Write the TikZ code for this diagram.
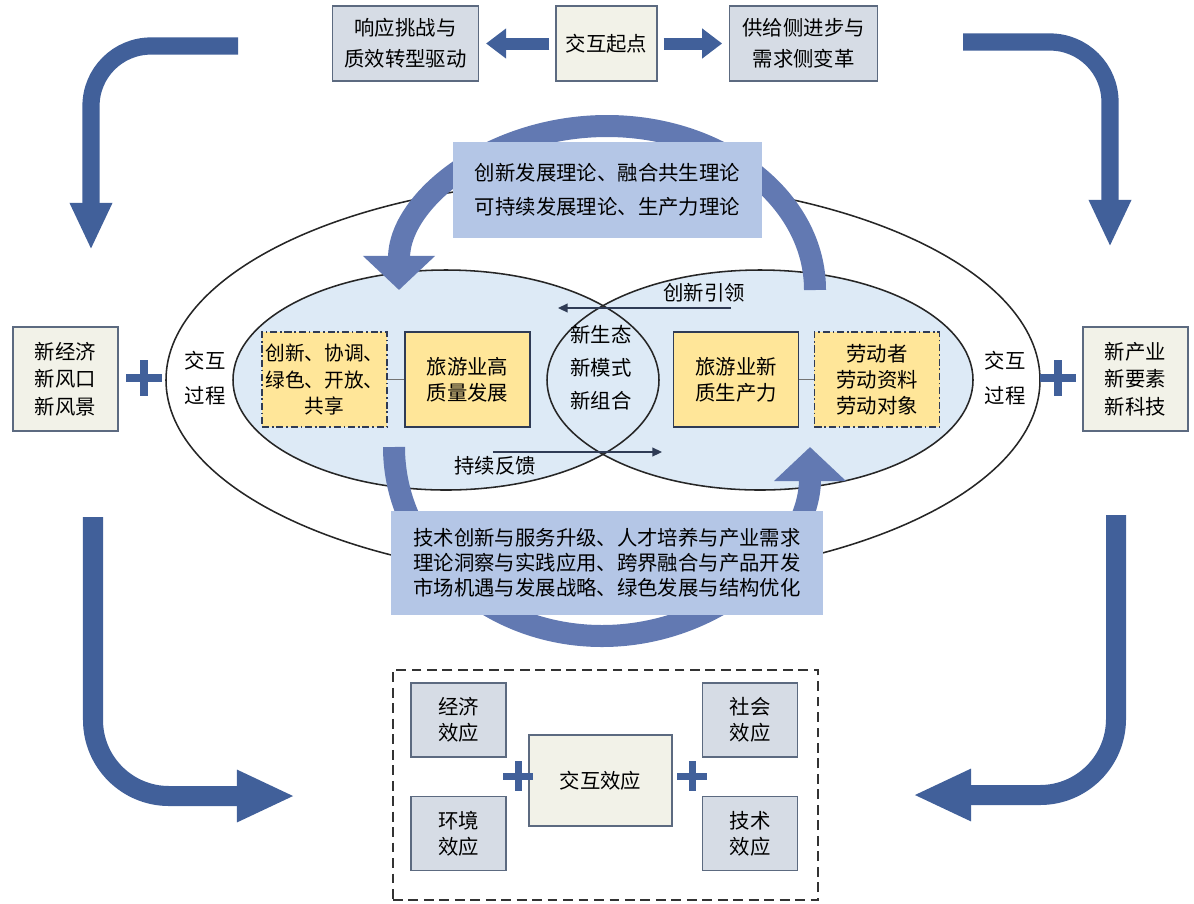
\documentclass[tikz,border=0pt]{standalone}
\usepackage{fontspec}
\setmainfont{Noto Sans CJK SC}
\usetikzlibrary{arrows.meta, positioning, shapes.misc}
\definecolor{cnavy}{HTML}{41609A}
\definecolor{carc}{HTML}{6279B2}
\definecolor{ctheory}{HTML}{B4C6E6}
\definecolor{cpale}{HTML}{DDEAF6}
\definecolor{cyellow}{HTML}{FFE699}
\definecolor{cslate}{HTML}{D6DCE5}
\definecolor{ccream}{HTML}{F2F2E8}
\definecolor{cedge}{HTML}{5C6A80}
\definecolor{cdark}{HTML}{2F3B55}
\tikzset{
  every picture/.style={font=\fontsize{14.5}{18.5}\selectfont, line width=1pt},
  box/.style={draw=cedge, fill=#1, align=center, inner sep=0pt, minimum width=2.375cm, minimum height=1.85cm},
  box/.default=cslate,
  ybox/.style={draw=cdark, fill=cyellow, line width=1.3pt, align=center, inner sep=0pt, minimum width=3.125cm, minimum height=2.375cm},
  dashdot/.style={ybox, dash pattern=on 5pt off 2pt on 1.2pt off 2pt},
  theory/.style={fill=ctheory, align=center, inner sep=0pt},
  tag/.style={align=center, inner sep=0pt},
  ring/.style={draw=black!85, line width=1.1pt},
  blockarrow/.style={cnavy, line width=0.3cm, -{Triangle[width=0.72cm, length=0.5cm]}, shorten <=0.15cm, shorten >=0.17cm},
  bendarrow/.style={cnavy, line width=#1, rounded corners=1.5cm},
  swing/.style={carc, line width=0.55cm, -{Triangle[width=1.75cm, length=0.85cm]}},
  lead/.style={draw=cdark, line width=1pt, -{Triangle[length=2.4mm, width=2.2mm]}},
  link/.style={draw=black!55, line width=0.7pt},
  bigplus/.style={cross out, draw=cnavy, rotate=45, inner sep=0pt, minimum size=0.425cm, line width=0.2cm},
  smallplus/.style={cross out, draw=cnavy, rotate=45, inner sep=0pt, minimum size=0.354cm, line width=0.175cm},
}

\begin{document}
\begin{tikzpicture}[x=0.025cm, y=-0.025cm]
  \useasboundingbox (0,0) rectangle (1194,903);

  % starting point
  \node[box=ccream, minimum width=2.525cm, minimum height=1.875cm] (start) at (606.5,43.5) {交互起点};
  \node[box, minimum width=3.65cm, minimum height=1.875cm, font=\fontsize{14.5}{22}\selectfont, left=1.9cm of start] (resp) {响应挑战与\\质效转型驱动};
  \node[box, minimum width=3.7cm, minimum height=1.875cm, font=\fontsize{14.5}{22}\selectfont, right=1.78cm of start] (supply) {供给侧进步与\\需求侧变革};
  \draw[blockarrow] (start.west) -- (resp.east);
  \draw[blockarrow] (start.east) -- (supply.west);

  % corner arrows
  \coordinate (tlS) at (238,46);   \coordinate (tlE) at (91,250);
  \coordinate (trS) at (963,42);   \coordinate (trE) at (1110,247);
  \coordinate (blS) at (93,517);   \coordinate (blE) at (295,796);
  \coordinate (brS) at (1116,515); \coordinate (brE) at (913,795);
  \draw[bendarrow=0.43cm, -{Triangle[width=0.98cm, length=1.18cm]}] (tlS) -| (tlE);
  \draw[bendarrow=0.43cm, -{Triangle[width=0.98cm, length=1.18cm]}] (trS) -| (trE);
  \draw[bendarrow=0.5cm, rounded corners=1.9cm, -{Triangle[width=1.2cm, length=1.45cm]}] (blS) |- (blE);
  \draw[bendarrow=0.5cm, rounded corners=1.9cm, -{Triangle[width=1.2cm, length=1.45cm]}] (brS) |- (brE);

  % ellipses
  \draw[ring] (603,380) ellipse [x radius=437, y radius=200];
  \fill[cpale] (446,380) ellipse [x radius=213, y radius=110] (760,380) ellipse [x radius=213, y radius=110];
  \draw[ring] (446,380) ellipse [x radius=213, y radius=110];
  \draw[ring] (760,380) ellipse [x radius=213, y radius=110];

  % theory arcs
  \coordinate (swTop) at (815,290);
  \coordinate (swBot) at (394,447);
  \draw[swing] (swTop) arc[start angle=0, end angle=-180, x radius=208, y radius=164];
  \draw[swing] (swBot) arc[start angle=180, end angle=0, x radius=208, y radius=189];
  \node[theory, minimum width=7.725cm, minimum height=2.4cm, font=\fontsize{14.5}{24.5}\selectfont] (theoT) at (607.5,190) {创新发展理论、融合共生理论\\可持续发展理论、生产力理论};
  \node[theory, minimum width=10.775cm, minimum height=2.6cm, font=\fontsize{14.5}{17.7}\selectfont] (theoB) at (607,563) {技术创新与服务升级、人才培养与产业需求\\理论洞察与实践应用、跨界融合与产品开发\\市场机遇与发展战略、绿色发展与结构优化};

  % inside the ellipses
  \node[dashdot, font=\fontsize{14}{19}\selectfont] (five) at (324.5,379.5) {创新、协调、\\绿色、开放、\\共享};
  \node[ybox] (lhq) at (467.5,379.5) {旅游业高\\质量发展};
  \node[ybox] (nqp) at (736,379.5) {旅游业新\\质生产力};
  \node[dashdot] (labor) at (877,379.5) {劳动者\\劳动资料\\劳动对象};
  \draw[link] (five.east) -- (lhq.west);
  \draw[link] (nqp.east) -- (labor.west);
  \node[tag, font=\fontsize{14.5}{23.5}\selectfont] (newthree) at (601,368) {新生态\\新模式\\新组合};

  \coordinate (leadS) at (731,308); \coordinate (leadE) at (558,308);
  \coordinate (fbS) at (493,452);   \coordinate (fbE) at (662,452);
  \draw[lead] (leadS) -- (leadE);
  \draw[lead] (fbS) -- (fbE);
  \node[tag] (leadtxt) at (704,293) {创新引领};
  \node[tag] (fbtxt) at (495,466) {持续反馈};

  \node[tag, font=\fontsize{14.5}{25}\selectfont] (procL) at (205,378) {交互\\过程};
  \node[tag, font=\fontsize{14.5}{25}\selectfont] (procR) at (1005,378) {交互\\过程};

  % sides
  \node[box=ccream, minimum width=2.625cm, minimum height=2.6cm, font=\fontsize{14.5}{19.5}\selectfont] (newL) at (65.5,379) {新经济\\新风口\\新风景};
  \node[box=ccream, minimum width=2.625cm, minimum height=2.6cm, font=\fontsize{14.5}{19.5}\selectfont] (newR) at (1135.5,379) {新产业\\新要素\\新科技};
  \node[bigplus] (plusL) at (144,378) {};
  \node[bigplus] (plusR) at (1058,378) {};

  % effects
  \node[draw=black!80, dashed, dash pattern=on 7pt off 4pt, line width=1.2pt, minimum width=10.625cm, minimum height=5.75cm] (effframe) at (605.5,785) {};
  \node[box=ccream, minimum width=3.575cm, minimum height=2.275cm] (inter) at (600.5,780.5) {交互效应};
  \node[box] (econ) at (458.5,720) {经济\\效应};
  \node[box] (env) at (458.5,833.5) {环境\\效应};
  \node[box] (soc) at (750,720) {社会\\效应};
  \node[box] (tech) at (750,833.5) {技术\\效应};
  \node[smallplus] (plusA) at (518,776) {};
  \node[smallplus] (plusB) at (692,776) {};
\end{tikzpicture}
\end{document}
